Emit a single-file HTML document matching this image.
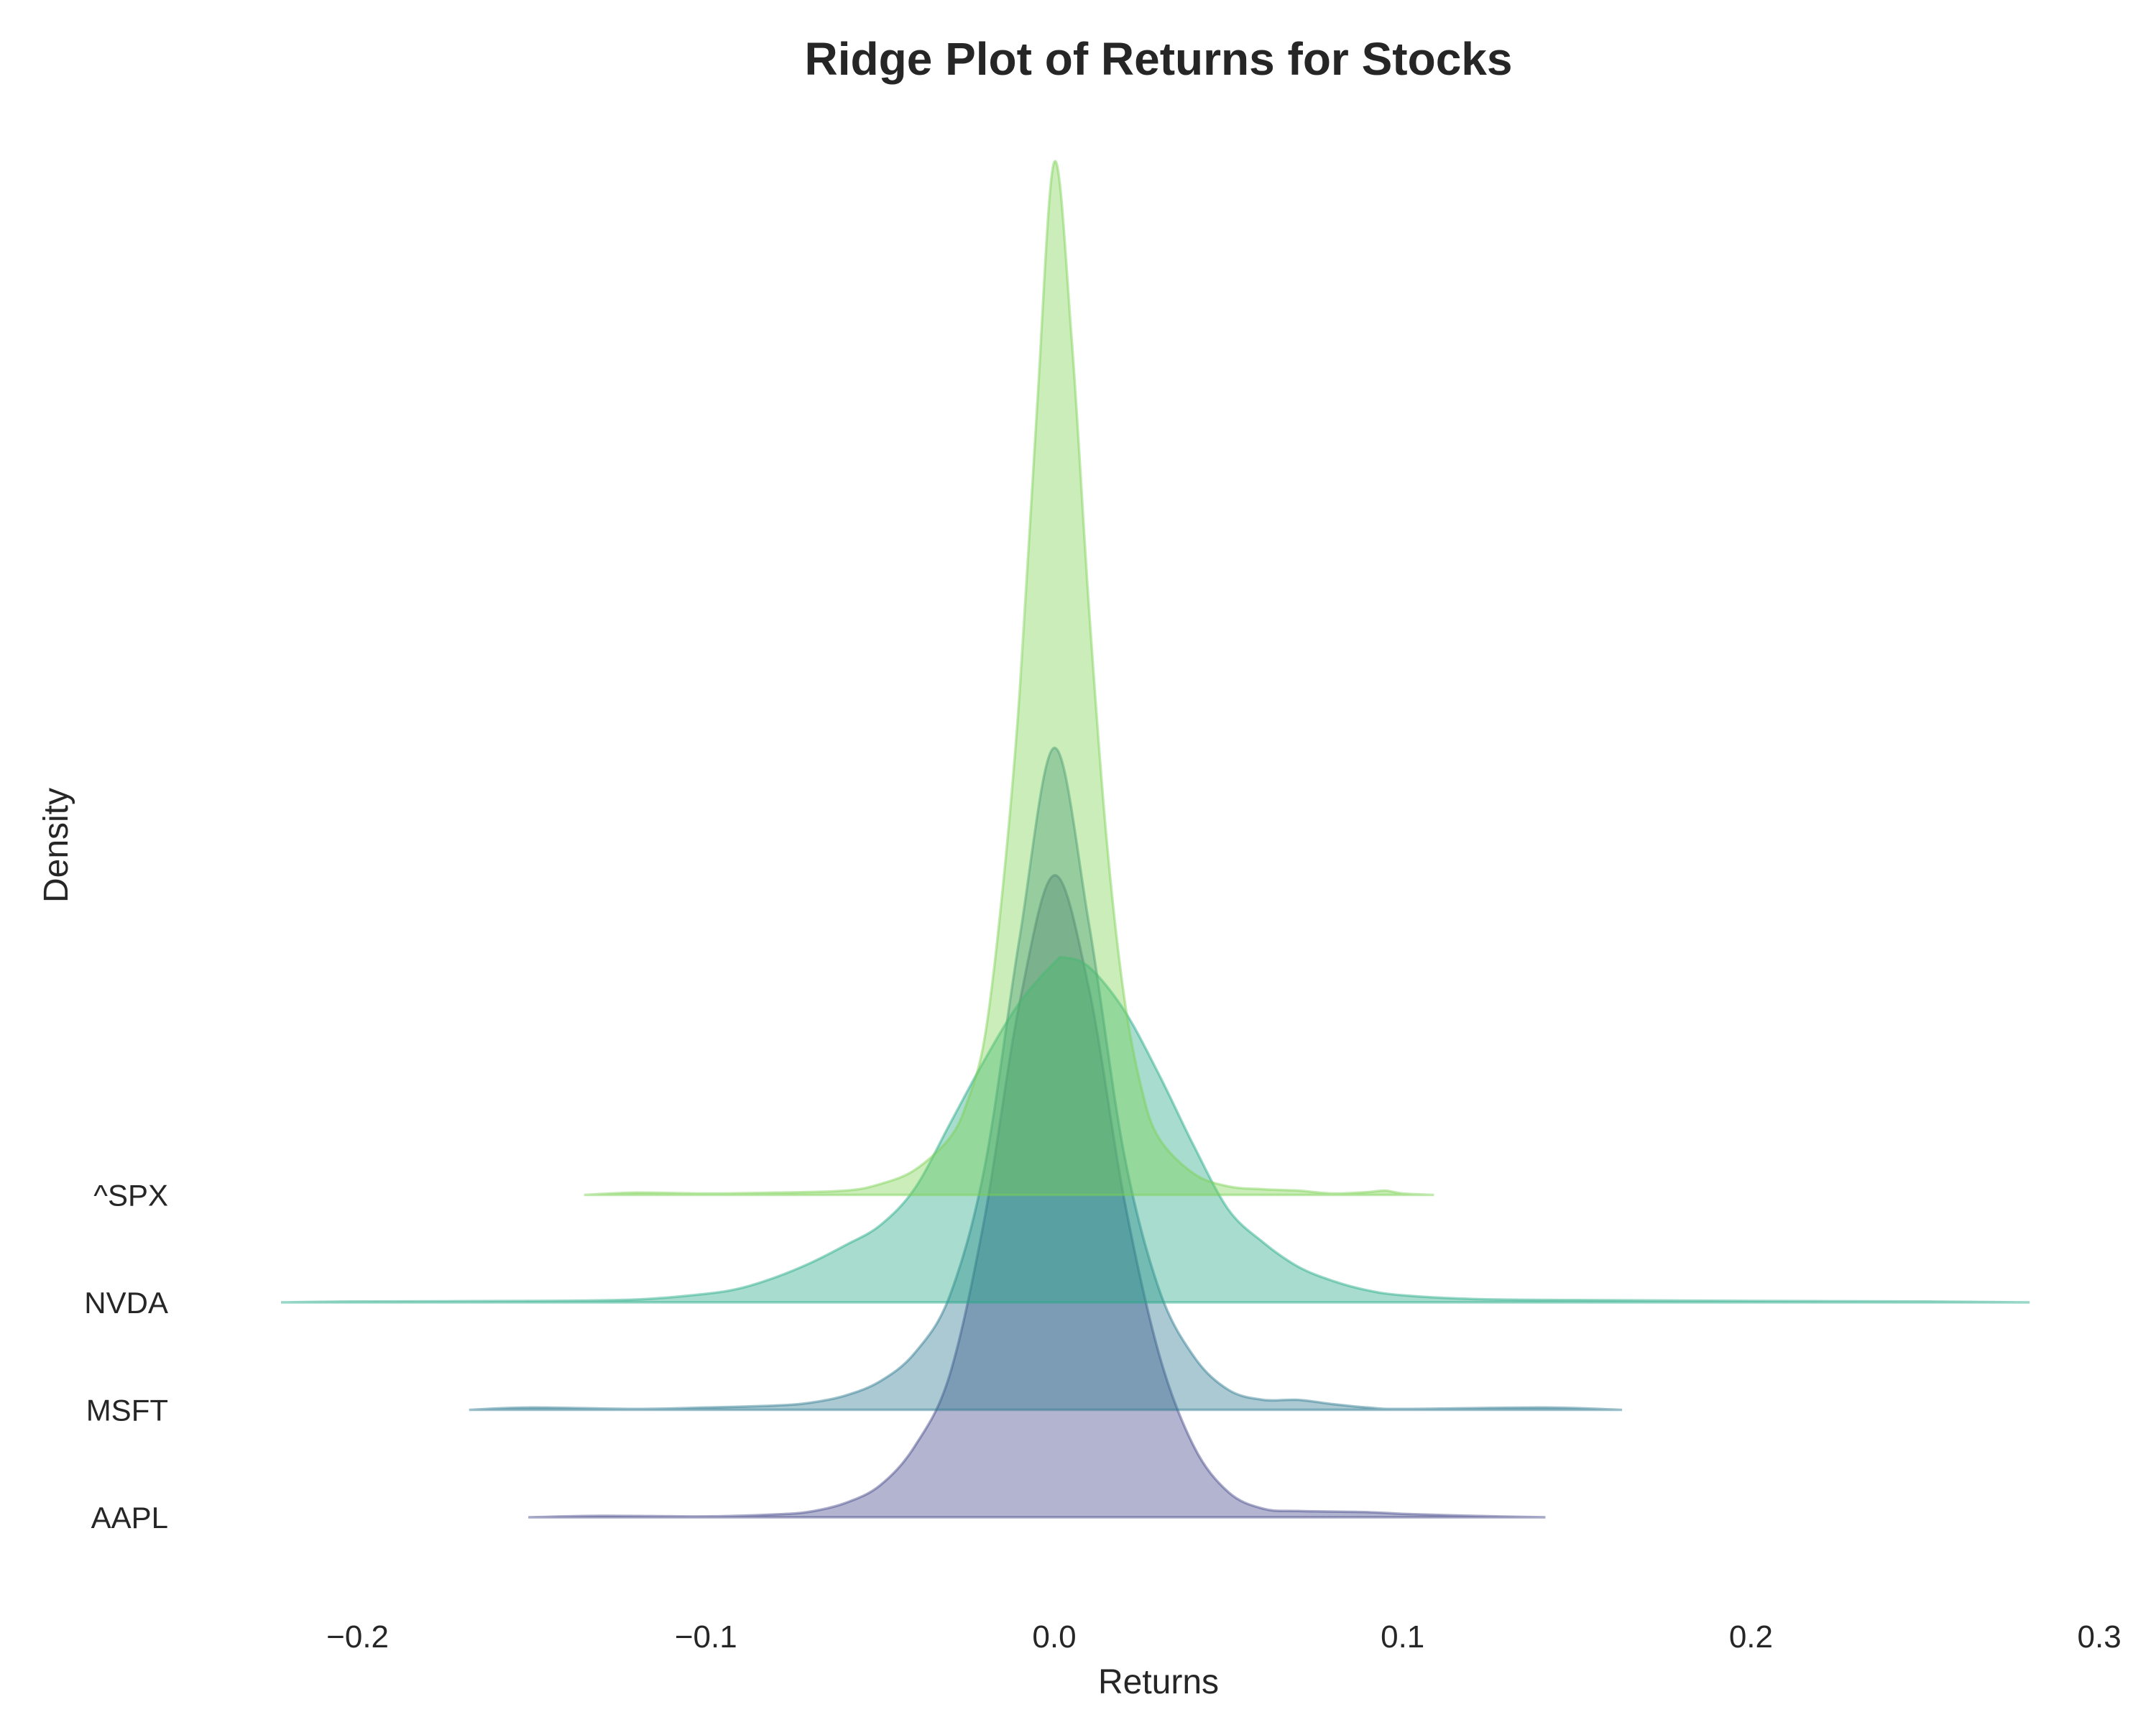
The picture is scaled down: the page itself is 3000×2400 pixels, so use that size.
<!DOCTYPE html>
<html><head><meta charset="utf-8"><style>
body{margin:0;background:#fff;}
svg{display:block;font-family:"Liberation Sans",Arial,sans-serif;}
</style></head><body>
<svg id="chart" width="3000" height="2400" viewBox="0 0 3000 2400" xmlns="http://www.w3.org/2000/svg">
<rect width="3000" height="2400" fill="#fff"/>
<text x="1612" y="104" text-anchor="middle" font-size="64" font-weight="bold" fill="#262626">Ridge Plot of Returns for Stocks</text>
<g id="marks"></g>
<g id="xaxis"></g>
<g id="ylabels"></g>
<text x="1612" y="2356" text-anchor="middle" font-size="48" fill="#262626">Returns</text>
<text transform="translate(94,1176) rotate(-90)" text-anchor="middle" font-size="48" fill="#262626">Density</text>
</svg>
<script>
const categories = ["AAPL","MSFT","NVDA","^SPX"];
const xTicks = [-0.2,-0.1,0.0,0.1,0.2,0.3];
const xTickLabels = ["\u22120.2","\u22120.1","0.0","0.1","0.2","0.3"];
const aaplX = [-0.151,-0.13,-0.1,-0.08,-0.07,-0.06,-0.05,-0.04,-0.03,-0.02,-0.01,0,0.01,0.02,0.03,0.04,0.05,0.06,0.07,0.09,0.1,0.12,0.141];
const aaplY = [0,0.05,0.03,0.1,0.2,0.5,1.12,2.5,5,10.5,18,22.5,18.5,11.2,5.75,2.5,0.88,0.3,0.22,0.18,0.12,0.05,0];
const msftX = [-0.168,-0.15,-0.12,-0.1,-0.08,-0.07,-0.06,-0.05,-0.04,-0.03,-0.02,-0.01,0,0.01,0.02,0.03,0.04,0.05,0.06,0.07,0.08,0.09,0.1,0.14,0.163];
const msftY = [0,0.08,0.03,0.08,0.15,0.25,0.5,1,2,4,8.5,16.5,23.2,17,9,4.25,1.88,0.7,0.35,0.35,0.2,0.08,0.03,0.08,0];
const nvdaX = [-0.222,-0.2,-0.15,-0.12,-0.1,-0.09,-0.08,-0.07,-0.06,-0.05,-0.04,-0.03,-0.02,-0.01,0,0.003,0.01,0.02,0.03,0.04,0.05,0.06,0.07,0.08,0.09,0.1,0.12,0.15,0.2,0.25,0.28];
const nvdaY = [0,0.03,0.05,0.1,0.3,0.5,0.88,1.38,2,2.7,4,6.25,8.5,10.5,11.9,12.08,11.75,10.25,8,5.5,3.25,2.1,1.25,0.75,0.42,0.25,0.12,0.08,0.05,0.03,0];
const spxX = [-0.135,-0.12,-0.1,-0.08,-0.06,-0.05,-0.04,-0.03,-0.025,-0.02,-0.015,-0.01,-0.005,0,0.005,0.01,0.015,0.02,0.025,0.03,0.04,0.05,0.06,0.07,0.08,0.09,0.095,0.1,0.109];
const spxY = [0,0.08,0.05,0.08,0.15,0.38,0.88,2,3.25,5.5,10.5,17.5,27.5,36.2,30,20.5,12.5,7,3.75,2,0.75,0.3,0.2,0.15,0.05,0.1,0.15,0.05,0];
const series = [
  {name:"AAPL",xs:aaplX,ys:aaplY,color:"#414487"},
  {name:"MSFT",xs:msftX,ys:msftY,color:"#2a788e"},
  {name:"NVDA",xs:nvdaX,ys:nvdaY,color:"#22a884"},
  {name:"^SPX",xs:spxX,ys:spxY,color:"#7ad151"}
];
const NS="http://www.w3.org/2000/svg";
function xScale(v){return 1467+v*4847;}
function baseY(i){return 2111-i*149.5;}
function yScale(d,i){return baseY(i)-d*39.7;}
function smoothPath(pts){
  let d="M"+pts[0][0].toFixed(1)+","+pts[0][1].toFixed(1);
  for(let i=0;i<pts.length-1;i++){
    const p0=pts[Math.max(0,i-1)],p1=pts[i],p2=pts[i+1],p3=pts[Math.min(pts.length-1,i+2)];
    const c1x=p1[0]+(p2[0]-p0[0])/6,c1y=p1[1]+(p2[1]-p0[1])/6;
    const c2x=p2[0]-(p3[0]-p1[0])/6,c2y=p2[1]-(p3[1]-p1[1])/6;
    d+=" C"+c1x.toFixed(1)+","+c1y.toFixed(1)+" "+c2x.toFixed(1)+","+c2y.toFixed(1)+" "+p2[0].toFixed(1)+","+p2[1].toFixed(1);
  }
  return d;
}
const marks=document.getElementById("marks");
series.forEach((s,i)=>{
  const pts=s.xs.map((x,k)=>[xScale(x),yScale(s.ys[k],i)]);
  const by=baseY(i);
  const curve=smoothPath(pts);
  const area=document.createElementNS(NS,"path");
  area.setAttribute("d",curve+" L"+pts[pts.length-1][0].toFixed(1)+","+by+" L"+pts[0][0].toFixed(1)+","+by+" Z");
  area.setAttribute("fill",s.color);
  area.setAttribute("fill-opacity","0.4");
  
  
  marks.appendChild(area);
  const line=document.createElementNS(NS,"path");
  line.setAttribute("d",curve+" L"+pts[0][0].toFixed(1)+","+by+" Z");
  line.setAttribute("fill","none");
  line.setAttribute("stroke",s.color);
  line.setAttribute("stroke-opacity","0.45");
  line.setAttribute("stroke-width","3.5");
  
  
  marks.appendChild(line);
});
const yl=document.getElementById("ylabels");
categories.forEach((c,i)=>{
  const t=document.createElementNS(NS,"text");
  t.setAttribute("x",234);
  t.setAttribute("y",baseY(i)+15);
  t.setAttribute("text-anchor","end");
  t.setAttribute("font-size","42");
  t.setAttribute("fill","#262626");
  
  
  t.textContent=c;
  yl.appendChild(t);
});
const xa=document.getElementById("xaxis");
xTicks.forEach((v,k)=>{
  const t=document.createElementNS(NS,"text");
  t.setAttribute("x",xScale(v));
  t.setAttribute("y",2292);
  t.setAttribute("text-anchor","middle");
  t.setAttribute("font-size","44");
  t.setAttribute("fill","#262626");
  
  
  t.textContent=xTickLabels[k];
  xa.appendChild(t);
});
</script>
</body></html>
